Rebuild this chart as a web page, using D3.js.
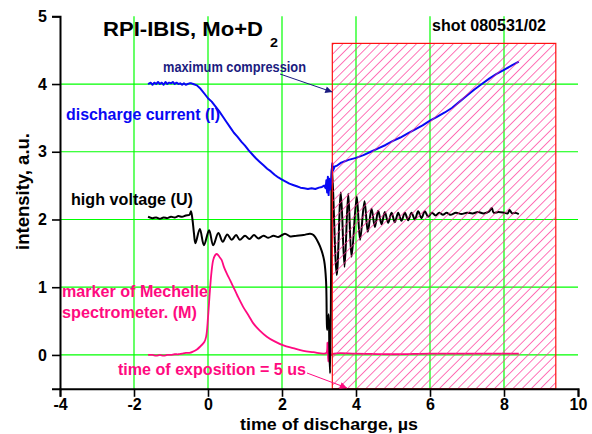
<!DOCTYPE html>
<html>
<head>
<meta charset="utf-8">
<script src="https://d3js.org/d3.v7.min.js"></script>
<style>
  body { margin: 0; background: #fff; }
  text { font-family: "Liberation Sans", Arial, sans-serif; font-weight: bold; }
</style>
</head>
<body>
<svg id="chart"></svg>
<script>
// time of discharge (us) / intensity (a.u.)
var currentPts = [[-1.62,4.00],[-1.55,4.02],[-1.5,3.99],[-1.45,4.02],[-1.4,4.0],[-1.35,4.03],[-1.3,4.0],[-1.25,4.02],[-1.2,3.99],[-1.15,4.03],[-1.1,4.0],
  [-1.05,4.02],[-1.0,4.01],[-0.95,4.03],[-0.9,4.0],[-0.85,4.02],[-0.8,4.0],[-0.75,4.01],[-0.7,3.99],[-0.65,4.01],[-0.6,3.99],[-0.55,4.0],[-0.5,4.01],
  [-0.45,4.01],[-0.4,4.0],[-0.3,3.98],[-0.2,3.93],[-0.1,3.86],[0,3.79],[0.1,3.74],[0.2,3.67],[0.3,3.6],[0.4,3.52],[0.5,3.44],[0.6,3.36],[0.7,3.28],
  [0.8,3.22],[0.9,3.15],[1.0,3.09],[1.1,3.02],[1.2,2.96],[1.3,2.9],[1.4,2.85],[1.5,2.8],[1.6,2.75],[1.7,2.71],[1.8,2.66],[1.9,2.62],[2.0,2.59],
  [2.1,2.56],[2.2,2.53],[2.3,2.51],[2.4,2.49],[2.5,2.47],[2.6,2.46],[2.7,2.45],[2.8,2.46],[2.9,2.45],[3.0,2.47],[3.08,2.48],[3.14,2.5],[3.18,2.46],
  [3.2,2.58],[3.22,2.4],[3.24,2.63],[3.26,2.36],[3.28,2.6],[3.3,2.44],[3.33,2.55],[3.36,2.83],[3.38,2.72],[3.42,2.78],[3.5,2.8],[3.6,2.84],[3.7,2.86],
  [3.8,2.88],[4.0,2.91],[4.2,2.95],[4.4,3.0],[4.6,3.05],[4.8,3.1],[5.0,3.16],[5.2,3.21],[5.4,3.27],[5.5,3.3],[5.6,3.33],[5.8,3.39],[6.0,3.46],
  [6.2,3.52],[6.4,3.58],[6.6,3.65],[6.8,3.74],[7.0,3.83],[7.2,3.92],[7.4,4.0],[7.6,4.08],[7.8,4.15],[8.0,4.21],[8.2,4.27],[8.4,4.33]]

var voltagePts = [[-1.62,2.04],[-1.5,2.02],[-1.4,2.03],[-1.3,2.01],[-1.2,2.03],[-1.1,2.02],[-1.0,2.04],[-0.9,2.03],[-0.8,2.05],[-0.7,2.04],
  [-0.6,2.06],[-0.5,2.07],[-0.46,2.12],[-0.42,2.0],[-0.38,1.8],[-0.34,1.65],[-0.22,1.86],[-0.11,1.62],[0.03,1.84],[0.14,1.62],[0.28,1.8],
  [0.4,1.67],[0.52,1.78],[0.64,1.7],[0.76,1.77],[0.86,1.7],[1.0,1.76],[1.12,1.71],[1.24,1.77],[1.36,1.72],[1.5,1.76],[1.63,1.73],[1.77,1.76],
  [1.9,1.74],[2.08,1.79],[2.22,1.75],[2.4,1.76],[2.58,1.77],[2.76,1.79],[2.85,1.77],[2.98,1.66],[3.07,1.54],[3.14,1.39],[3.19,1.1],[3.21,0.51],
  [3.22,0.37],[3.26,0.6],[3.28,0.1],[3.3,-0.27],[3.33,1.5],[3.35,2.8],[3.48,1.18],[3.59,2.4],[3.69,1.3],[3.79,2.38],[3.88,1.45],[4.02,2.34],
  [4.11,1.7],[4.23,2.27],[4.32,1.82],[4.42,2.16],[4.51,1.89],[4.6,2.13],[4.69,1.93],[4.78,2.11],[4.87,1.95],[4.96,2.1],[5.05,1.96],[5.14,2.1],
  [5.23,1.98],[5.32,2.1],[5.41,1.99],[5.5,2.1],[5.59,2.0],[5.68,2.12],[5.77,2.02],[5.86,2.12],[5.95,2.04],[6.05,2.1],[6.15,2.06],[6.25,2.1],
  [6.35,2.07],[6.45,2.1],[6.55,2.07],[6.7,2.1],[6.85,2.08],[7.0,2.1],[7.15,2.09],[7.3,2.11],[7.45,2.09],[7.6,2.12],[7.67,2.17],[7.72,2.1],
  [7.85,2.11],[8.0,2.1],[8.1,2.09],[8.15,2.14],[8.22,2.09],[8.3,2.1],[8.4,2.08]]

var markerPts = [[-1.62,0.0],[-1.5,0.0],[-1.4,-0.01],[-1.3,0.0],[-1.2,-0.01],[-1.1,0.0],[-1.0,0.0],[-0.9,0.01],[-0.8,0.01],[-0.7,0.02],
  [-0.6,0.03],[-0.5,0.03],[-0.4,0.05],[-0.3,0.08],[-0.2,0.13],[-0.1,0.19],[-0.05,0.27],[0.0,0.55],[0.04,0.86],[0.09,1.2],[0.14,1.4],
  [0.19,1.47],[0.23,1.49],[0.28,1.47],[0.33,1.43],[0.37,1.4],[0.43,1.3],[0.5,1.21],[0.6,1.1],[0.68,1.01],[0.8,0.87],[0.95,0.71],[1.1,0.58],
  [1.22,0.47],[1.4,0.36],[1.59,0.27],[1.8,0.2],[2.04,0.14],[2.3,0.1],[2.58,0.06],[2.85,0.04],[3.12,0.02],[3.2,0.03],[3.23,0.18],[3.25,-0.1],
  [3.27,0.2],[3.29,-0.12],[3.31,0.1],[3.33,0.0],[3.4,0.02],[4.0,0.02],[5.0,0.01],[6.0,0.02],[7.0,0.02],[8.0,0.02],[8.4,0.02]]

var exposition = [3.36, 9.4]   // hatched window, us
var windowTop = 4.6
var xTicks = [-4, -2, 0, 2, 4, 6, 8, 10]
var xMinor = [-3, -1, 1, 3, 5, 7, 9]
var yTicks = [0, 1, 2, 3, 4, 5]
var yMinor = [-0.5, 0.5, 1.5, 2.5, 3.5, 4.5]
var gridX = [-2, 0, 2, 4, 6, 8]
var gridY = [0, 1, 2, 3, 4]

var width = 592, height = 434
var pink = "#ff0a80", navy = "#1b1b80", blue = "#0808f4"

var svg = d3.select("svg#chart").attr("width", width).attr("height", height)

var xScale = d3.scaleLinear().domain([-4, 10]).range([60, 578])
var yScale = d3.scaleLinear().domain([-0.5, 5]).range([388.8, 16.3])

var defs = svg.append("defs")
defs.append("pattern")
    .attr("id", "hatch")
    .attr("patternUnits", "userSpaceOnUse")
    .attr("width", 6.5).attr("height", 6.5)
    .attr("patternTransform", "rotate(45)")
  .append("line")
    .attr("x1", 0).attr("y1", 0).attr("x2", 0).attr("y2", 6.5)
    .attr("stroke", "#ff2a92").attr("stroke-width", 1.3)

var marker = function(id, col) {
  defs.append("marker")
      .attr("id", id)
      .attr("viewBox", "0 0 10 10")
      .attr("refX", 10).attr("refY", 5)
      .attr("markerWidth", 9).attr("markerHeight", 7)
      .attr("markerUnits", "userSpaceOnUse")
      .attr("orient", "auto")
    .append("path").attr("d", "M0,0 L10,5 L0,10 z").attr("fill", col)
}
marker("arrNavy", navy)
marker("arrPink", pink)

// grid
svg.append("g").selectAll("line").data(gridX).enter().append("line")
    .attr("x1", function(d) { return xScale(d) }).attr("x2", function(d) { return xScale(d) })
    .attr("y1", yScale(-0.5)).attr("y2", yScale(5))
    .attr("stroke", "#00ff00").attr("stroke-width", 1.2)
svg.append("g").selectAll("line").data(gridY).enter().append("line")
    .attr("y1", function(d) { return yScale(d) }).attr("y2", function(d) { return yScale(d) })
    .attr("x1", xScale(-4)).attr("x2", xScale(10))
    .attr("stroke", "#00ff00").attr("stroke-width", 1.2)

// traces
var line = d3.line().x(function(d) { return xScale(d[0]) }).y(function(d) { return yScale(d[1]) })
var smooth = d3.line().curve(d3.curveCatmullRom.alpha(0.5))
    .x(function(d) { return xScale(d[0]) }).y(function(d) { return yScale(d[1]) })
var traces = [[markerPts, pink, 1.8, smooth], [voltagePts, "#000", 2, smooth], [currentPts, blue, 2, line]]
traces.forEach(function(t) {
  svg.append("path").datum(t[0]).attr("d", t[3])
      .attr("fill", "none").attr("stroke", t[1]).attr("stroke-width", t[2])
      .attr("stroke-linejoin", "round")
})

// exposition window
svg.append("rect")
    .attr("x", xScale(exposition[0])).attr("y", yScale(windowTop))
    .attr("width", xScale(exposition[1]) - xScale(exposition[0]))
    .attr("height", yScale(-0.5) - yScale(windowTop))
    .attr("fill", "url(#hatch)").attr("stroke", "#ff1010").attr("stroke-width", 1.2)

// axes
var xAxis = svg.append("g").attr("transform", "translate(0," + yScale(-0.5) + ")")
xAxis.call(d3.axisBottom(xScale).tickValues(xMinor).tickSize(5).tickFormat(""))
xAxis.call(d3.axisBottom(xScale).tickValues(xTicks).tickSize(8).tickPadding(2).tickFormat(String))
var yAxis = svg.append("g").attr("transform", "translate(" + xScale(-4) + ",0)")
yAxis.call(d3.axisLeft(yScale).tickValues(yMinor).tickSize(4).tickFormat(""))
yAxis.call(d3.axisLeft(yScale).tickValues(yTicks).tickSize(8).tickPadding(5).tickFormat(String))
svg.selectAll(".domain").attr("stroke-width", 2)
svg.selectAll(".tick line").attr("stroke-width", 1.6)
svg.selectAll(".tick text").attr("font-size", "16px").attr("font-family", "Liberation Sans, Arial, sans-serif")
    .attr("font-weight", "bold").attr("fill", "#000")
xAxis.selectAll(".tick text").attr("dy", "0.72em")

// labels
function label(txt, x, y, size, col, len) {
  return svg.append("text").attr("x", x).attr("y", y).attr("font-size", size + "px")
      .attr("fill", col).attr("textLength", len).attr("lengthAdjust", "spacingAndGlyphs").text(txt)
}
label("RPI-IBIS, Mo+D", 103, 36, 21, "#000", 160)
label("2", 270, 47, 13, "#000", 8)
label("shot 080531/02", 432, 31, 16, "#000", 114)
label("maximum compression", 163, 72, 15, navy, 143)
label("discharge current (I)", 66, 120, 16, blue, 154)
label("high voltage (U)", 71, 205, 16, "#000", 122)
label("marker of Mechelle", 62, 297, 16, pink, 146)
label("spectrometer. (M)", 62, 318, 16, pink, 135)
label("time of exposition = 5 us", 118, 375, 16, pink, 188)
label("time of discharge, \u00b5s", 240, 430, 16, "#000", 178)
svg.append("text")
    .attr("transform", "translate(29,191.5) rotate(-90)")
    .attr("text-anchor", "middle").attr("font-size", "18px")
    .attr("textLength", 117).attr("lengthAdjust", "spacingAndGlyphs")
    .text("intensity, a.u.")

// pointers
svg.append("line").attr("x1", 280).attr("y1", 74).attr("x2", xScale(exposition[0])).attr("y2", 92)
    .attr("stroke", navy).attr("stroke-width", 1).attr("marker-end", "url(#arrNavy)")
svg.append("line").attr("x1", 307).attr("y1", 373).attr("x2", 347).attr("y2", 388)
    .attr("stroke", pink).attr("stroke-width", 1).attr("marker-end", "url(#arrPink)")
</script>
</body>
</html>
